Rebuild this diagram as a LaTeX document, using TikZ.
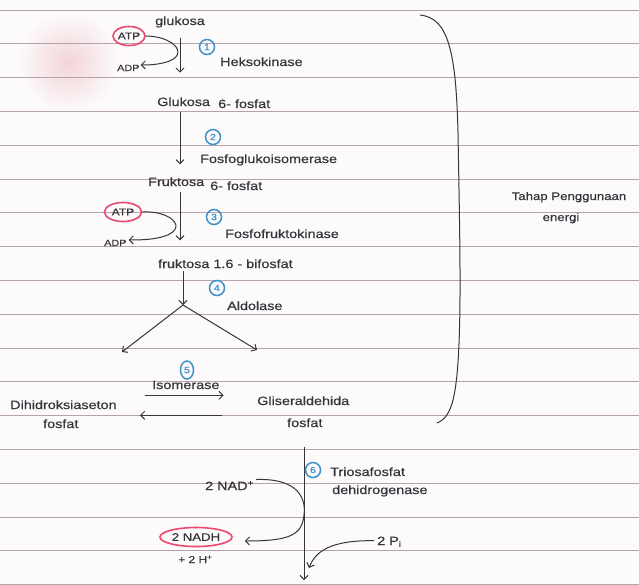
\documentclass[tikz,border=0pt]{standalone}
\usepackage{fontspec}
\setmainfont{Liberation Sans}[FakeStretch=1.2,FakeBold=0.5]
\usetikzlibrary{arrows.meta,shapes.geometric,calc}
\definecolor{ink}{RGB}{55,52,60}
\definecolor{rulec}{RGB}{182,162,170}
\definecolor{pinkred}{RGB}{236,72,112}
\definecolor{blueink}{RGB}{60,145,200}
\definecolor{paper}{RGB}{252,250,250}
\definecolor{smudge}{RGB}{242,212,217}
\begin{document}
\begin{tikzpicture}[x=1pt,y=-1pt,
  txt/.style={text=ink,font=\fontsize{12}{14}\selectfont,inner sep=0pt,anchor=base west},
  ctxt/.style={text=ink,font=\fontsize{12}{14}\selectfont,inner sep=0pt,anchor=base},
  small/.style={text=ink,font=\fontsize{9}{10}\selectfont,inner sep=0pt,anchor=base west},
  arr/.style={draw=ink,line width=1pt,-{Straight Barb[length=4pt,width=8pt]}},
  ln/.style={draw=ink,line width=1pt},
  num/.style={circle,draw=blueink,line width=1.5pt,text=blueink,inner sep=0pt,minimum size=15pt,font=\fontsize{9}{9}\selectfont},
  redov/.style={ellipse,draw=pinkred,line width=1.6pt,inner sep=0pt,text=ink,font=\fontsize{10}{11}\selectfont}]
\fill[paper] (0,0) rectangle (639,584);
\useasboundingbox (0,0) rectangle (639,584);
\shade[inner color=smudge,outer color=paper] (68,62) circle (50);
\foreach \i in {0,...,17} \draw[rulec,line width=0.8pt] (0,{10+33.8*\i}) -- (639,{10+33.8*\i});
\coordinate (sp) at (180,0);
% step 1
\node[txt] (glu) at (155,25) {glukosa};
\node[redov,minimum width=32pt,minimum height=19pt] (atp1) at (129,36) {ATP};
\node[small] (adp1) at (117,71) {ADP};
\node[num] (n1) at (207,47) {1};
\node[txt] (hk) at (220,66) {Heksokinase};
\draw[arr] ($(glu.south -| sp)+(0,10)$) -- ($(glu.south -| sp)+(0,45)$);
\draw[arr] (atp1.east) .. controls (178,36) and (197,62) .. ($(adp1.east)+(9,-3)$) -- ($(adp1.east)+(1,-3)$);
% step 2
\node[txt] (g6pa) at (157,106) {Glukosa};
\node[txt] (g6pb) at (218,108) {6- fosfat};
\node[num] (n2) at (213,137) {2};
\node[txt] (pgi) at (200,163) {Fosfoglukoisomerase};
\draw[arr] ($(g6pa.south -| sp)+(0,6)$) -- ($(g6pa.south -| sp)+(0,58)$);
% step 3
\node[txt] (f6pa) at (148,186) {Fruktosa};
\node[txt] (f6pb) at (210,190) {6- fosfat};
\node[redov,minimum width=37pt,minimum height=19pt] (atp2) at (123,212) {ATP};
\node[small] (adp2) at (104,246) {ADP};
\node[num] (n3) at (214,217) {3};
\node[txt] (pfk) at (225,238) {Fosfofruktokinase};
\draw[arr] ($(f6pa.south -| sp)+(0,6)$) -- ($(f6pa.south -| sp)+(0,54)$);
\draw[arr] (atp2.east) .. controls (178,210) and (197,238) .. ($(adp2.east)+(12,-3)$) -- ($(adp2.east)+(2,-3)$);
% step 4
\node[txt] (fbp) at (158,268) {fruktosa 1.6 - bifosfat};
\node[num] (n4) at (217,288) {4};
\node[txt] (ald) at (227,310) {Aldolase};
\coordinate (fork) at (183,305);
\coordinate (lend) at (122,352);
\coordinate (rend) at (257,350);
\draw[arr] ($(fbp.south -| fork)+(0,3)$) -- (fork);
\draw[arr] (fork) -- (lend);
\draw[arr] (fork) -- (rend);
% step 5
\node[num,ellipse,minimum width=13pt,minimum height=18pt] (n5) at (187,370) {5};
\node[txt] (iso) at (152,389) {Isomerase};
\node[txt] (dhap) at (10,409) {Dihidroksiaseton};
\node[txt] (dhap2) at (43,428) {fosfat};
\node[txt] (gap) at (257,405) {Gliseraldehida};
\node[txt] (gap2) at (287,427) {fosfat};
\draw[arr] ($(iso.south west)+(-7,6)$) -- ($(iso.south east)+(4,6)$);
\draw[arr] ($(iso.south east)+(2,26)$) -- ($(iso.south west)+(-12,26)$);
% bracket
\draw[ln] (420,15) .. controls (448,18) and (456,50) .. (458,133) .. controls (460,250) and (463,360) .. (453,400) .. controls (450,412) and (445,420) .. (437,423);
\node[ctxt,font=\fontsize{11}{13}\selectfont] (tahap) at (569,200) {Tahap Penggunaan};
\node[ctxt,font=\fontsize{11}{13}\selectfont] (energi) at (561,221) {energi};
% step 6
\coordinate (top6) at (304,447);
\coordinate (bot6) at (304,580);
\draw[arr] (top6) -- (bot6);
\node[num] (n6) at (313,470) {6};
\node[txt] (tri) at (330,476) {Triosafosfat};
\node[txt] (deh) at (332,494) {dehidrogenase};
\node[txt] (nad) at (205,490) {2 NAD\textsuperscript{+}};
\node[redov,minimum width=72pt,minimum height=19pt,font=\fontsize{11}{12}\selectfont] (nadh) at (196,537) {2 NADH};
\node[txt,font=\fontsize{10}{12}\selectfont] (hplus) at (178,563) {+ 2 H\textsuperscript{+}};
\node[txt] (pi) at (377,545) {2 P\textsubscript{i}};
\draw[arr] ($(nad.east)+(2,-6)$) .. controls (300,478) and (306,500) .. (304,515) .. controls (302,535) and (290,541) .. ($(nadh.east)+(12,4)$);
\draw[arr] ($(pi.west)+(-3,-1)$) .. controls (330,540) and (315,552) .. (309,568);
\end{tikzpicture}
\end{document}
